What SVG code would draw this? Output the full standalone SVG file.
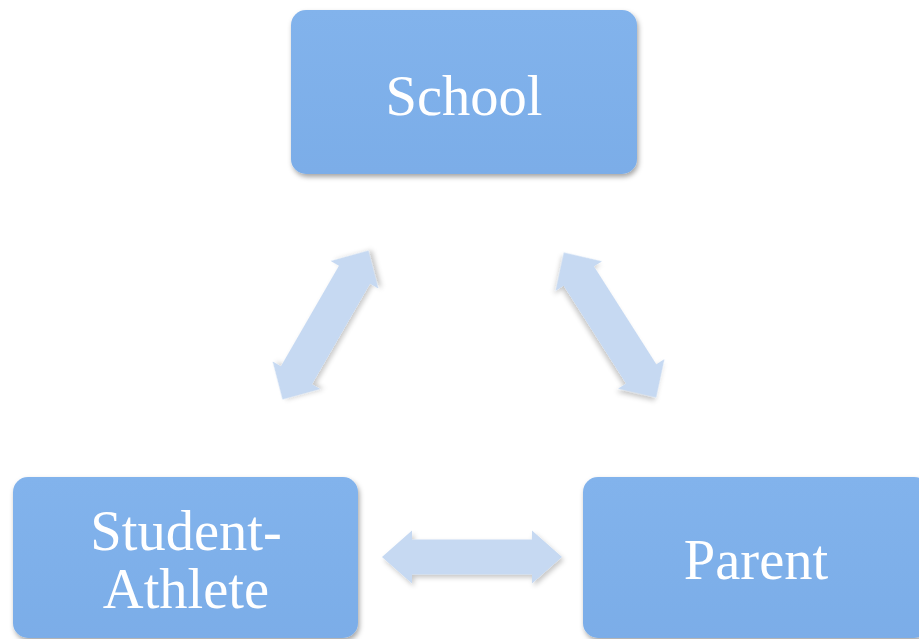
<svg xmlns="http://www.w3.org/2000/svg" width="919" height="639" viewBox="0 0 919 639">
<defs>
<filter id="sh" x="-10%" y="-10%" width="120%" height="125%">
<feDropShadow dx="1.5" dy="3" stdDeviation="2.5" flood-color="#000" flood-opacity="0.35"/>
</filter>
<filter id="ash" x="-20%" y="-20%" width="140%" height="140%">
<feDropShadow dx="2" dy="3" stdDeviation="2.5" flood-color="#000" flood-opacity="0.22"/>
</filter>
<linearGradient id="bg" x1="0" y1="0" x2="0" y2="1">
<stop offset="0" stop-color="#82b3ec"/>
<stop offset="1" stop-color="#7bade8"/>
</linearGradient>
<path id="dbl" d="M -90,0 L -60,-26.5 L -60,-17.5 L 60,-17.5 L 60,-26.5 L 90,0 L 60,26.5 L 60,17.5 L -60,17.5 L -60,26.5 Z"/>
<path id="dbld" d="M -86,0 L -58,-27.5 L -58,-18 L 58,-18 L 58,-27.5 L 86,0 L 58,27.5 L 58,18 L -58,18 L -58,27.5 Z"/>
</defs>
<style>
.box{fill:url(#bg);filter:url(#sh);}
.lbl{font-family:"Liberation Serif","Times New Roman",serif;font-size:56.5px;fill:#ffffff;text-anchor:middle;}
.arr{fill:#c6d9f2;filter:url(#ash);}
</style>
<rect width="919" height="639" fill="#ffffff"/>
<g id="connectors">
<use href="#dbld" class="arr" transform="translate(325.5,325) rotate(-60)"/>
<use href="#dbld" class="arr" transform="translate(610,325) rotate(57.5)"/>
<use href="#dbl" class="arr" transform="translate(472,557)"/>
</g>
<g id="school">
<rect class="box" x="291" y="10" width="346" height="164" rx="15" ry="15"/>
<text class="lbl" x="464" y="115">School</text>
</g>
<g id="student-athlete">
<rect class="box" x="13" y="477" width="345" height="161" rx="15" ry="15"/>
<text class="lbl" x="186" y="550">Student-</text>
<text class="lbl" x="186" y="608">Athlete</text>
</g>
<g id="parent">
<rect class="box" x="583" y="477" width="346" height="161" rx="15" ry="15"/>
<text class="lbl" x="756" y="579">Parent</text>
</g>
</svg>
